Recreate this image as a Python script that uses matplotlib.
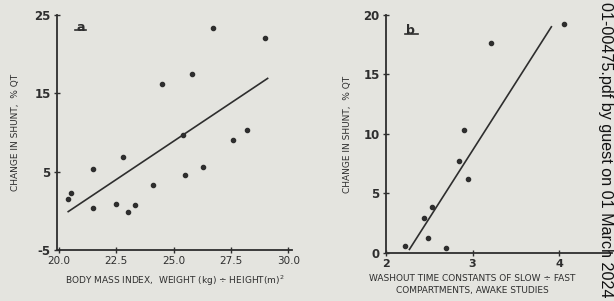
import numpy as np
import matplotlib
matplotlib.use("Agg")
import matplotlib.pyplot as plt

# ---------------------------------------------------------------
# Datos
# ---------------------------------------------------------------
# panel a: indice de masa corporal vs cambio en shunt
bmi_x = [26.7, 29.0, 25.8, 24.5, 28.2, 27.6, 25.4, 22.8, 21.5, 26.3,
         25.5, 24.1, 20.5, 20.4, 21.5, 22.5, 23.0, 23.3]
bmi_y = [23.3, 22.0, 17.4, 16.2, 10.3, 9.0, 9.7, 6.9, 5.3, 5.6,
         4.6, 3.3, 2.3, 1.5, 0.4, 0.9, -0.1, 0.8]
bmi_fit_x = [20.4, 29.1]
bmi_fit_y = [-0.1, 16.9]

# panel b: constantes de lavado vs cambio en shunt
wash_x = [4.06, 3.21, 2.90, 2.84, 2.95, 2.53, 2.44, 2.49, 2.22, 2.69]
wash_y = [19.2, 17.6, 10.3, 7.7, 6.2, 3.9, 2.9, 1.3, 0.6, 0.4]
wash_fit_x = [2.27, 3.91]
wash_fit_y = [0.3, 19.0]

a_yticks = [25, 15, 5, -5]
a_xticks = [20.0, 22.5, 25.0, 27.5, 30.0]
b_yticks = [20, 15, 10, 5, 0]
b_xticks = [2, 3, 4]

ink = "#2e2e2e"
paper = "#e4e4df"

plt.rcParams["font.family"] = ["DejaVu Sans"]

fig = plt.figure(figsize=(6.14, 3.01), dpi=100)
fig.patch.set_facecolor(paper)

ax1 = fig.add_axes([0.0928, 0.1694, 0.383, 0.781])
ax2 = fig.add_axes([0.6287, 0.1595, 0.368, 0.791])

for ax in (ax1, ax2):
    ax.set_facecolor(paper)
    ax.spines["top"].set_visible(False)
    ax.spines["right"].set_visible(False)
    ax.spines["left"].set_color(ink)
    ax.spines["bottom"].set_color(ink)
    ax.spines["left"].set_linewidth(1.3)
    ax.spines["bottom"].set_linewidth(1.3)
    ax.tick_params(colors=ink, direction="inout", length=5, width=1,
                   labelsize=8.5, pad=2)

# ---- panel a ----
ax1.scatter(bmi_x, bmi_y, s=9, color=ink, zorder=3)
ax1.plot(bmi_fit_x, bmi_fit_y, color=ink, lw=1.2)
ax1.set_xlim(19.91, 30.17)
ax1.set_ylim(-5, 25)
ax1.set_yticks(a_yticks)
ax1.set_yticklabels([str(v) for v in a_yticks], fontweight="bold")
ax1.set_xticks(a_xticks)
ax1.set_xticklabels([f"{v:.1f}" for v in a_xticks], fontsize=7.5)
ax1.set_xlabel("BODY MASS INDEX,  WEIGHT (kg) ÷ HEIGHT(m)$^2$", fontsize=6.5,
               color=ink, labelpad=5)
ax1.set_ylabel("CHANGE IN SHUNT,  % Q̇T", fontsize=6.5, color=ink, labelpad=10)
ax1.text(0.10, 0.975, "a", transform=ax1.transAxes, fontsize=9,
         fontweight="bold", color=ink, ha="center", va="top")
ax1.plot([0.075, 0.125], [0.935, 0.935], transform=ax1.transAxes,
         color=ink, lw=1.2)

# ---- panel b ----
ax2.scatter(wash_x, wash_y, s=9, color=ink, zorder=3)
ax2.plot(wash_fit_x, wash_fit_y, color=ink, lw=1.2)
ax2.set_xlim(2.0, 4.61)
ax2.set_ylim(0, 20)
ax2.set_yticks(b_yticks)
ax2.set_yticklabels([str(v) for v in b_yticks], fontweight="bold")
ax2.set_xticks(b_xticks)
ax2.set_xticklabels([str(v) for v in b_xticks], fontweight="bold", fontsize=8)
ax2.set_xlabel("WASHOUT TIME CONSTANTS OF SLOW ÷ FAST\nCOMPARTMENTS, AWAKE STUDIES",
               fontsize=6.5, color=ink, linespacing=1.3)
ax2.xaxis.set_label_coords(0.38, -0.09, transform=ax2.transAxes)
ax2.xaxis.label.set_va("top")
ax2.set_ylabel("CHANGE IN SHUNT,  % Q̇T", fontsize=6.5, color=ink, labelpad=8)
ax2.text(0.11, 0.96, "b", transform=ax2.transAxes, fontsize=9,
         fontweight="bold", color=ink, ha="center", va="top")
ax2.plot([0.085, 0.14], [0.92, 0.92], transform=ax2.transAxes,
         color=ink, lw=1.2)

# marca de agua del pdf (lado derecho)
fig.text(0.986, 0.013, "01-00475.pdf by guest on 01 March 2024", rotation=270,
         fontsize=11.6, color="#111111", ha="center", va="bottom",
         family="Liberation Sans")

fig.savefig("out.png", dpi=100, facecolor=paper)
